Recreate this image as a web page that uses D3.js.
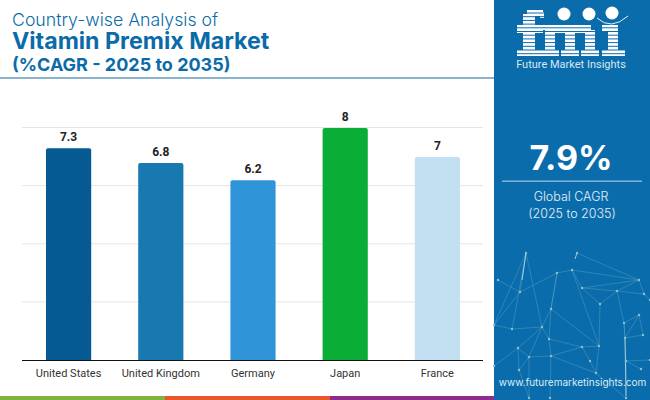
<!DOCTYPE html>
<html>
<head>
	<meta charset="utf-8" />
	<title>Vitamin Premix Market</title>
	<style type="text/css">
	*{margin:0px;padding:0px;}
	body{background:#fff;overflow:hidden;}
	svg{display:block;}
	</style>
</head>
<body>
	<svg id="chart" width="650" height="400"></svg>
	<script src="https://cdn.jsdelivr.net/npm/d3@7"></script>
	<script type="text/javascript">
		var countries = ["United States", "United Kingdom", "Germany", "Japan", "France"];
		var cagr = [7.3, 6.8, 6.2, 8, 7];
		var barColors = ["#045a91", "#1878b0", "#3095d8", "#0aad35", "#c3e0f2"];
		var gridTicks = [2, 4, 6, 8];
		var titleLines = ["Country-wise Analysis of", "Vitamin Premix Market", "(%CAGR - 2025 to 2035)"];
		var stripeColors = ["#7fb53f", "#e8562a", "#8d2c8c"];

		// background network in the blue panel
		var netNodes = [[526,253],[577,253],[572,270],[557,273],[498,280],[520,292],[582,288],[639,280],[617,291],[644,294],[600,304],[551,309],[639,315],[624,323],[512,329],[542,327],[643,335],[549,339],[625,338],[599,346],[518,348],[582,347],[551,356],[529,357],[590,361],[626,361],[519,370],[641,369],[596,373],[529,398],[494,325],[650,360],[494,366],[626,398],[650,300],[550,398]];
		var netLinks = [[0,5],[0,14],[0,15],[0,30],[3,5],[3,11],[3,2],[2,7],[1,7],[2,6],[2,19],[6,10],[6,7],[6,8],[8,7],[8,9],[8,13],[7,9],[9,34],[10,19],[10,8],[11,15],[11,19],[11,3],[14,15],[14,30],[15,20],[15,17],[15,23],[17,21],[17,22],[17,11],[21,19],[21,24],[22,23],[22,21],[22,35],[20,23],[20,26],[20,32],[23,26],[23,29],[24,28],[13,25],[13,18],[18,12],[18,16],[16,12],[25,27],[25,31],[25,33],[19,28],[26,29],[4,5],[13,12],[5,30],[28,33],[22,28]];
		var netBright = [[0,[522,280]],[1,[575,259]],[18,[626,396]]];

		var svg = d3.select("#chart");

		var x = d3.scaleBand().domain(countries).range([22.5, 483.5]).paddingInner(0.51).paddingOuter(0.255);
		var y = d3.scaleLinear().domain([0, 8]).range([360.5, 128]);

		// title
		svg.append("g").selectAll("text").data(titleLines).enter().append("text")
			.attr("x", 12)
			.attr("y", function(d, i){return [26, 49, 70.5][i]})
			.attr("font-family", "Inter, 'Open Sans', sans-serif")
			.attr("font-size", function(d, i){return [17.7, 23.2, 18][i]})
			.attr("font-weight", function(d, i){return i == 0 ? 300 : 700})
			.attr("fill", "#0b6ba8")
			.text(function(d){return d});

		svg.append("rect").attr("x", 0).attr("y", 77).attr("width", 494).attr("height", 2).attr("fill", "#8ab4cc");

		// grid
		svg.append("g").selectAll("line").data(gridTicks).enter().append("line")
			.attr("x1", 22).attr("x2", 483)
			.attr("y1", function(d){return y(d) - 0.5})
			.attr("y2", function(d){return y(d) - 0.5})
			.attr("stroke", "#e4e4e4");

		// bars
		svg.append("g").selectAll("path").data(cagr).enter().append("path")
			.attr("d", function(d, i){
				var x0 = x(countries[i]), x1 = x0 + x.bandwidth(), t = y(d), b = y(0), r = 2;
				return "M"+x0+","+b+"V"+(t+r)+"Q"+x0+","+t+" "+(x0+r)+","+t+"H"+(x1-r)+"Q"+x1+","+t+" "+x1+","+(t+r)+"V"+b+"Z";
			})
			.attr("fill", function(d, i){return barColors[i]});

		// value labels
		svg.append("g").selectAll("text").data(cagr).enter().append("text")
			.attr("x", function(d, i){return x(countries[i]) + x.bandwidth()/2})
			.attr("y", function(d){return y(d) - 7})
			.attr("text-anchor", "middle")
			.attr("font-family", "Roboto, sans-serif")
			.attr("font-size", 12)
			.attr("font-weight", 700)
			.attr("fill", "#222")
			.text(function(d){return d});

		// x axis
		var axis = svg.append("g").attr("transform", "translate(0,360.5)").call(d3.axisBottom(x).tickSize(0).tickPadding(9));
		axis.select(".domain").attr("stroke", "#111").attr("stroke-width", 1.2).attr("d", "M0,0H483");
		axis.select(".domain").attr("d", "M22,0H483");
		axis.selectAll("text").attr("font-family", "Roboto, sans-serif").attr("font-size", 11).attr("fill", "#333");

		// bottom stripe
		svg.append("g").selectAll("rect").data(stripeColors).enter().append("rect")
			.attr("x", function(d, i){return i*165})
			.attr("y", 396).attr("width", 165).attr("height", 4)
			.attr("fill", function(d){return d});

		// right panel
		var panelColor = "#0a6cab";
		svg.append("rect").attr("x", 494).attr("y", 0).attr("width", 156).attr("height", 400).attr("fill", panelColor);

		var net = svg.append("g");
		net.selectAll(".link").data(netLinks).enter().append("line").attr("class", "link")
			.attr("x1", function(d){return netNodes[d[0]][0]})
			.attr("y1", function(d){return netNodes[d[0]][1]})
			.attr("x2", function(d){return netNodes[d[1]][0]})
			.attr("y2", function(d){return netNodes[d[1]][1]})
			.attr("stroke", "#6fb4cc").attr("stroke-opacity", 0.6).attr("stroke-width", 0.6);
		net.selectAll(".bright").data(netBright).enter().append("line").attr("class", "bright")
			.attr("x1", function(d){return netNodes[d[0]][0]})
			.attr("y1", function(d){return netNodes[d[0]][1]})
			.attr("x2", function(d){return d[1][0]})
			.attr("y2", function(d){return d[1][1]})
			.attr("stroke", "#cfe6ee").attr("stroke-opacity", 0.75).attr("stroke-width", 1);
		net.selectAll("circle").data(netNodes).enter().append("circle")
			.attr("cx", function(d){return d[0]})
			.attr("cy", function(d){return d[1]})
			.attr("r", 1.2).attr("fill", "#8fc0c8");

		// logo: letter blocks cut by thin stripes
		var logoRects = [
			[523,14,12,42],[527,10,16,6],[540,12,4,6],[517,25,26,8],[517,50,26,6],
			[545,25,10,31],[565,30,10,26],[585,30,10,26],[545,25,46,8],[541,25,6,5],[541,50,18,6],[561,50,18,6],[581,50,18,6],
			[608,25,10,31],[602,25,16,6],[602,50,23,6]
		];
		var logo = svg.append("g");
		logo.selectAll(".letter").data(logoRects).enter().append("rect").attr("class", "letter")
			.attr("x", function(d){return d[0]}).attr("y", function(d){return d[1]})
			.attr("width", function(d){return d[2]}).attr("height", function(d){return d[3]})
			.attr("fill", "#fff");
		logo.selectAll(".band").data(d3.range(12)).enter().append("rect").attr("class", "band")
			.attr("x", 515).attr("width", 112).attr("height", 1)
			.attr("y", function(d){return 12.5 + d*3.7})
			.attr("fill", panelColor);
		logo.selectAll("circle").data([[564,14],[589,14],[612,13]]).enter().append("circle")
			.attr("cx", function(d){return d[0]}).attr("cy", function(d){return d[1]})
			.attr("r", 6.5).attr("fill", "#fff");
		logo.append("path").attr("d", "M597,18Q611,31 628,16").attr("fill", "none").attr("stroke", "#fff").attr("stroke-width", 0.9);
		logo.append("text").attr("x", 571).attr("y", 68).attr("text-anchor", "middle")
			.attr("font-family", "Roboto, sans-serif").attr("font-size", 11).attr("fill", "#d5e8f4")
			.text("Future Market Insights");

		// side figures
		svg.append("text").attr("x", 571).attr("y", 170).attr("text-anchor", "middle")
			.attr("font-family", "Inter, sans-serif").attr("font-weight", 700).attr("font-size", 34).attr("fill", "#fff").text("7.9%");
		svg.append("rect").attr("x", 502).attr("y", 180.5).attr("width", 140).attr("height", 1.3).attr("fill", "#8fc0e0");
		svg.append("text").attr("x", 571).attr("y", 201).attr("text-anchor", "middle")
			.attr("font-family", "Inter, sans-serif").attr("font-weight", 300).attr("font-size", 12.5).attr("fill", "#e4f0f8").text("Global CAGR");
		svg.append("text").attr("x", 572).attr("y", 218).attr("text-anchor", "middle")
			.attr("font-family", "Inter, sans-serif").attr("font-weight", 300).attr("font-size", 12.5).attr("fill", "#e4f0f8").text("(2025 to 2035)");
		svg.append("text").attr("x", 572.5).attr("y", 386).attr("text-anchor", "middle")
			.attr("font-family", "Inter, sans-serif").attr("font-size", 10).attr("fill", "#dcecf6").text("www.futuremarketinsights.com");
	</script>
</body>
</html>
